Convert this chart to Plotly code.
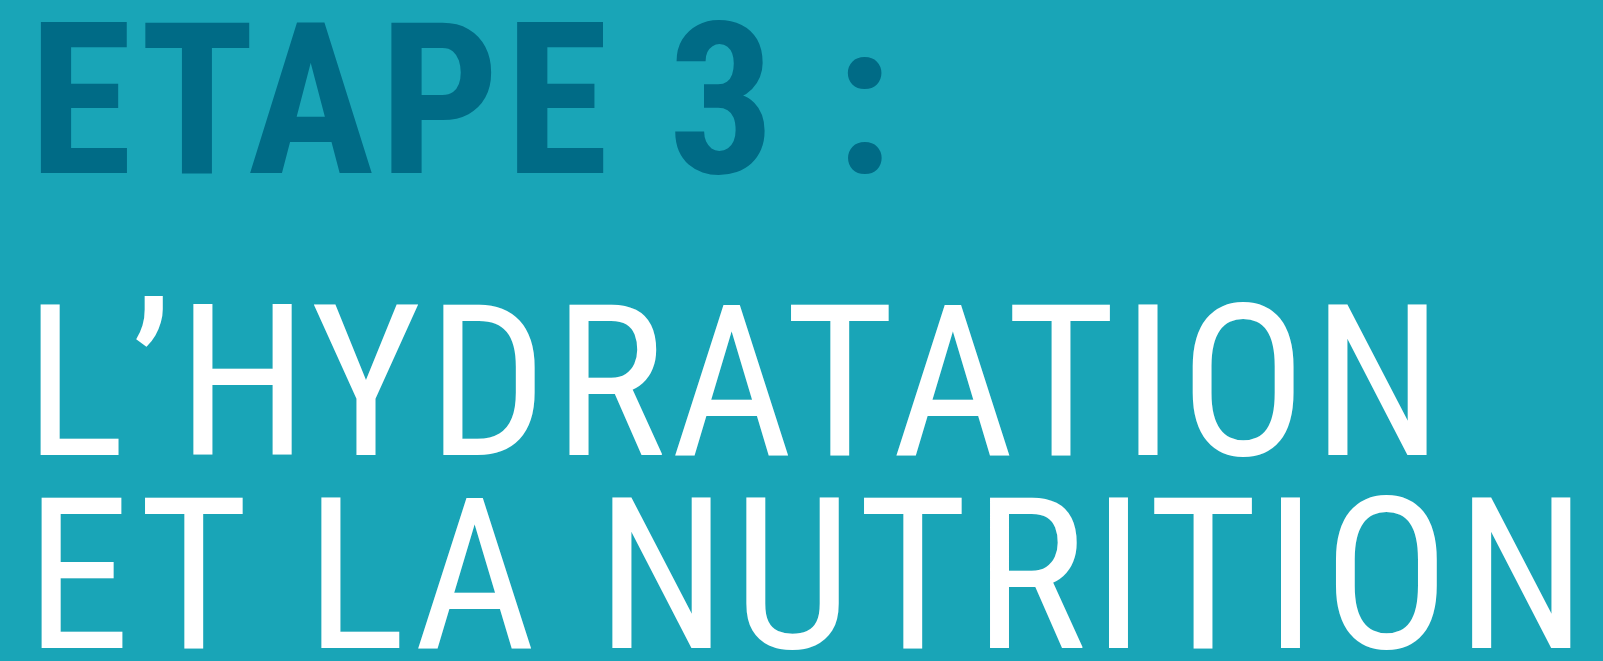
import plotly.graph_objects as go

# Text content
title_line = "ETAPE 3 :"
subtitle_lines = ["L\u2019HYDRATATION", "ET LA NUTRITION"]

BG = "#19A5B7"
DARK = "#006B86"
WHITE = "#FFFFFF"
W, H = 1603, 661
FONT = "Roboto Condensed, Roboto, sans-serif"

fig = go.Figure()
fig.update_layout(
    width=W, height=H,
    margin=dict(l=0, r=0, t=0, b=0),
    paper_bgcolor=BG, plot_bgcolor=BG,
    xaxis=dict(visible=False, range=[0, 1]),
    yaxis=dict(visible=False, range=[0, 1]),
    showlegend=False,
)

centers = [101, 383, 575.5]
lefts = [27, 23, 23]
spacing = [5.6, 5.6, 6.2]   # letter spacing (px) applied to each line
texts = [title_line] + subtitle_lines
colors = [DARK, WHITE, WHITE]
weights = ["bold", "normal", "normal"]
for t, c, xl, sp, col, w in zip(texts, centers, lefts, spacing, colors, weights):
    # text is centred inside the annotation, so extra spacing grows both ways
    xl = xl + len(t) * sp / 2
    fig.add_annotation(
        text=t, xref="paper", yref="paper",
        x=xl / W, y=1 - c / H, xanchor="left", yanchor="middle",
        showarrow=False,
        font=dict(family=FONT, size=211, color=col, weight=w),
    )

spacing_js = (
    "document.body.style.margin='0';document.body.style.overflow='hidden';"
    "var sp=" + str([f"{s}px" for s in spacing]).replace("'", '"') + ";"
    "document.querySelectorAll('.annotation-text').forEach(function(t,i){"
    "if(i<sp.length){t.style.letterSpacing=sp[i];}});"
)
fig.write_html("out.html", config={"displayModeBar": False, "staticPlot": True},
               post_script=spacing_js)
